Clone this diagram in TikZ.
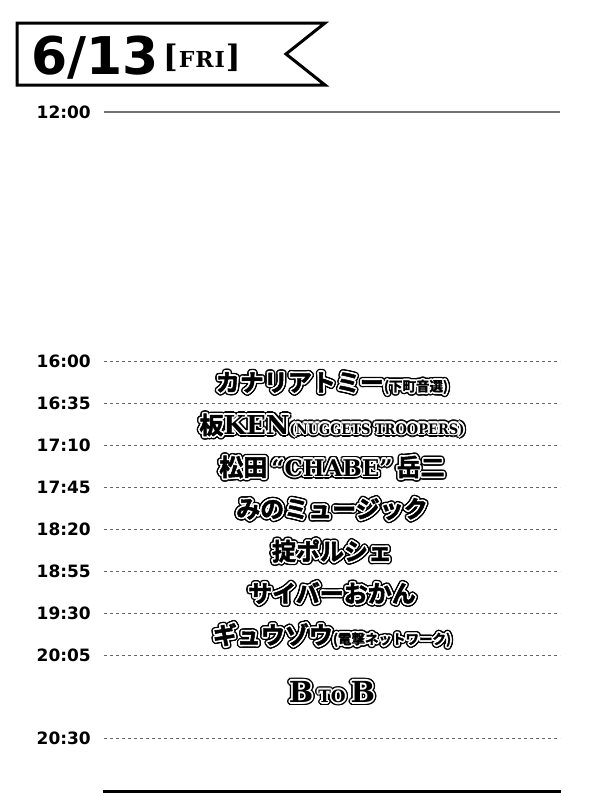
\documentclass[tikz,border=0pt]{standalone}
\usepackage{fontspec}
\setmainfont{DejaVu Sans}
\newfontfamily\jp{Noto Sans CJK JP Bold}[FakeBold=2]
\newfontfamily\slab{DejaVu Serif Bold}
\newfontfamily\slabc{DejaVu Serif Condensed Bold}
\newfontfamily\heavy{DejaVu Sans Bold}
\usetikzlibrary{positioning}

\tikzstyle{banner} = [draw=black, line width=3pt, fill=white, line join=miter]
\tikzstyle{datefont} = [inner sep=0pt, font=\heavy\fontsize{52}{52}\selectfont]
\tikzstyle{dowfont} = [inner sep=0pt, font=\slab\fontsize{22}{22}\selectfont]
\tikzstyle{clock} = [anchor=east, inner sep=0pt, font=\heavy\fontsize{17}{17}\selectfont]
\tikzstyle{noon} = [black!55, line width=2pt]
\tikzstyle{slot} = [black!60, line width=1pt, dash pattern=on 3.3pt off 2.7pt]
\tikzstyle{act} = [inner sep=0pt, font=\jp\fontsize{24}{24}\selectfont]
\tikzstyle{closing} = [black, line width=3pt]

% small text inside a name
\newcommand\aside[1]{{\fontsize{13.5}{13.5}\selectfont #1}}
% name with black and white rings round it
\newcommand\billing[3]{%
  \foreach \a in {0,22.5,...,337.5}
    \node[act, text=black] at ([shift={(\a:3.1)}]332,#2) {#3};
  \foreach \a in {0,30,...,330}
    \node[act, text=white] at ([shift={(\a:1.6)}]332,#2) {#3};
  \node (#1) [act] at (332,#2) {#3};
}

\begin{document}
\begin{tikzpicture}[x=1pt, y=-1pt]
\fill[white] (0,0) rectangle (600,796);
\useasboundingbox (0,0) rectangle (600,796);

% header
\draw[banner] (17,23) -- (325,23) -- (286,54) -- (325,85) -- (17,85) -- cycle;
\node (date) [datefont, anchor=base west] at (31,74) {6/13};
\node (dow) [right=4pt of date.base east, dowfont, anchor=base west, yshift=7pt]
  {{\fontsize{31}{31}\selectfont[}\kern1pt F\kern1pt R\kern1pt I\kern1pt{\fontsize{31}{31}\selectfont]}};

% time scale
\node (clock1200) [clock] at (91,112) {12:00};
\draw[noon] (104,112) -- (560,112);
\foreach \y/\t in {361/16:00, 403/16:35, 445/17:10, 487/17:45, 529/18:20,
                   571/18:55, 613/19:30, 655/20:05, 738/20:30} {
  \node (clock\y) [clock] at (91,\y) {\t};
  \draw[slot] (104,\y) -- (560,\y);
}
\draw[closing] (103,791) -- (561,791);

% line-up
\billing{kanaria}{383}{カナリアトミー\aside{(下町音選)}}
\billing{itaken}{425}{板{\slab\fontsize{26}{26}\selectfont KEN}{\slabc\fontsize{14.5}{14.5}\selectfont(NUGGETS TROOPERS)}}
\billing{chabe}{467}{松田\,{\slab\fontsize{23}{23}\selectfont “CHABE”}\,岳二}
\billing{mino}{509}{みのミュージック}
\billing{porsche}{551}{掟ポルシェ}
\billing{cyber}{593}{サイバーおかん}
\billing{gyuzo}{635}{ギュウゾウ\aside{(電撃ネットワーク)}}
\billing{btob}{692}{{\slab\fontsize{29}{29}\selectfont B\,{\fontsize{17}{17}\selectfont TO}\,B}}

\end{tikzpicture}
\end{document}
